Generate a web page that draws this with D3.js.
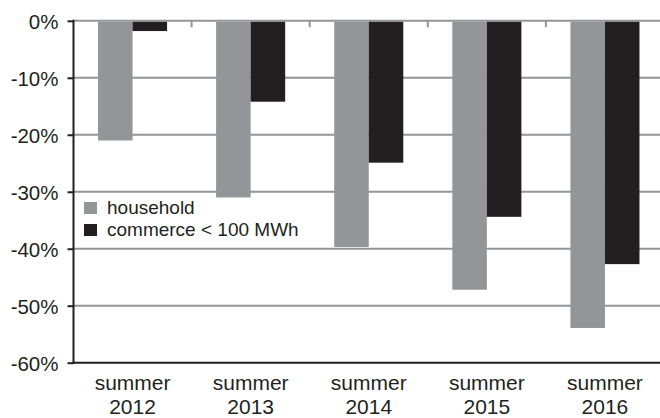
<!DOCTYPE html>
<html><head><meta charset="utf-8">
<script src="https://cdn.jsdelivr.net/npm/d3@7"></script>
<style>html,body{margin:0;padding:0;background:#fff;}svg{display:block;}</style>
</head><body>
<svg id="c" width="660" height="418"></svg>
<script>
const categories = ["summer 2012","summer 2013","summer 2014","summer 2015","summer 2016"];
const household = [-21, -31, -39.7, -47.2, -53.9];
const commerce = [-1.8, -14.2, -24.9, -34.4, -42.7];
const seriesNames = ["household","commerce < 100 MWh"];
const yTicks = [0,-10,-20,-30,-40,-50,-60];
const colors = ["#939598","#231f20"];

(function(){
const svg = d3.select("#c");
const mLeft = 73.5, mRight = 664, mTop = 20.8, mBottom = 362.7;
const x = d3.scaleBand().domain(categories).range([mLeft, mRight]).paddingInner(0).paddingOuter(0);
const xs = d3.scaleBand().domain([0,1]).range([0, x.bandwidth()]).paddingOuter(0.71).paddingInner(0);
const y = d3.scaleLinear().domain([-60,0]).range([mBottom, mTop]);
const font = "Liberation Sans, Arial, Helvetica, sans-serif";

// gridlines
svg.append("g").selectAll("line").data(yTicks.filter(d=>d>-60)).join("line")
  .attr("x1", mLeft).attr("x2", 660).attr("y1", d=>y(d)).attr("y2", d=>y(d))
  .attr("stroke", "#939598").attr("stroke-width", 2);

// bars
const data = categories.map((c,i)=>({c, v:[household[i], commerce[i]]}));
const g = svg.append("g");
data.forEach(d=>{
  d.v.forEach((v,j)=>{
    g.append("rect")
      .attr("x", x(d.c)+xs(j)).attr("width", xs.bandwidth())
      .attr("y", y(0)+1).attr("height", y(v)-y(0)-1)
      .attr("fill", colors[j]);
  });
});

// category tick marks at 0 line
svg.append("g").selectAll("line").data(categories.slice(1)).join("line")
  .attr("x1", d=>x(d)).attr("x2", d=>x(d)).attr("y1", y(0)).attr("y2", y(0)+6.5)
  .attr("stroke", "#939598").attr("stroke-width", 2);

// y axis
const yAxis = d3.axisLeft(y).tickValues(yTicks).tickSize(6).tickPadding(9).tickFormat(d=>d+"%");
const ya = svg.append("g").attr("transform", `translate(${mLeft},0)`).call(yAxis);
ya.select(".domain").remove();
ya.selectAll(".tick line").attr("stroke", "#231f20").attr("stroke-width", 2);
ya.selectAll(".tick text").attr("fill", "#231f20").style("font-family", font).style("font-size", "20.5px").attr("dy", "0.36em");
svg.append("line").attr("x1", mLeft).attr("x2", mLeft).attr("y1", mTop-1).attr("y2", mBottom+1)
  .attr("stroke", "#231f20").attr("stroke-width", 2);
svg.append("line").attr("x1", mLeft-1).attr("x2", 660).attr("y1", mBottom).attr("y2", mBottom)
  .attr("stroke", "#231f20").attr("stroke-width", 2);

// x labels
const xl = svg.append("g").selectAll("text").data(categories).join("text")
  .attr("x", d=>x(d)+x.bandwidth()/2).attr("text-anchor", "middle")
  .attr("fill", "#231f20").style("font-family", font).style("font-size", "21px");
xl.each(function(d){
  const parts = d.split(" ");
  const t = d3.select(this);
  t.append("tspan").attr("x", x(d)+x.bandwidth()/2).attr("y", 390).text(parts[0]);
  t.append("tspan").attr("x", x(d)+x.bandwidth()/2).attr("y", 414).text(parts[1]);
});

// legend
const lg = svg.append("g").attr("transform", "translate(84,202)");
seriesNames.forEach((n,i)=>{
  lg.append("rect").attr("x", 0).attr("y", i*22).attr("width", 13).attr("height", 12).attr("fill", colors[i]);
  lg.append("text").attr("x", 23).attr("y", i*22+11.5).text(n)
    .attr("fill", "#231f20").style("font-family", font).style("font-size", "19px");
});
})();
</script>
</body></html>
